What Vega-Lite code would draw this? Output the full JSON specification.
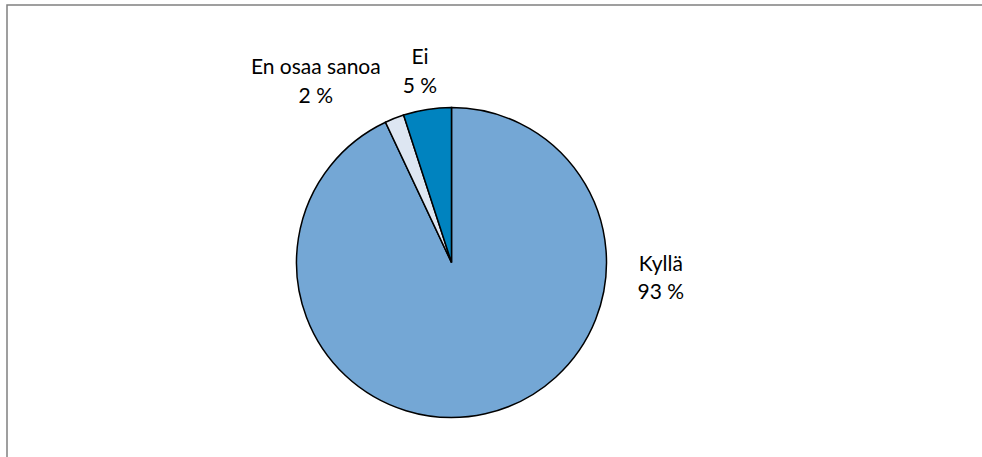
{
  "$schema": "https://vega.github.io/schema/vega-lite/v6.json",
  "width": 985,
  "height": 462,
  "autosize": {"type": "none"},
  "padding": {"left": 7, "top": 5, "right": -10, "bottom": -10},
  "background": "white",
  "config": {"view": {"stroke": null}},
  "data": {
    "values": [
      {"category": "Kyllä", "value": 93, "label": "Kyllä\n93 %"},
      {"category": "En osaa sanoa", "value": 2, "label": "En osaa sanoa\n2 %"},
      {"category": "Ei", "value": 5, "label": "Ei\n5 %"}
    ]
  },
  "layer": [
    {
      "data": {"values": [{"frame": 1}]},
      "mark": {"type": "rect", "x": 0, "x2": "width", "y": 0, "y2": "height", "filled": false, "stroke": "#808080", "strokeWidth": 1.5},
      "encoding": {}
    },
    {
      "mark": {"type": "arc", "outerRadius": 155, "x": 444.5, "y": 257.5, "stroke": "black", "strokeWidth": 1.5},
      "encoding": {
        "theta": {"field": "value", "type": "quantitative", "stack": true},
        "order": {"field": "category", "type": "nominal", "sort": "descending"},
        "color": {
          "field": "category",
          "type": "nominal",
          "scale": {"domain": ["Kyllä", "En osaa sanoa", "Ei"], "range": ["#74A7D5", "#DDE6F2", "#0083BF"]},
          "legend": null
        }
      }
    },
    {
      "mark": {"type": "text", "x": 444.5, "y": 257.5, "radius": 210, "thetaOffset": -1.272, "dy": -14, "font": "Lato", "fontSize": 21, "lineBreak": "\n", "lineHeight": 28, "align": "center", "baseline": "middle", "color": "black"},
      "encoding": {
        "theta": {"field": "value", "type": "quantitative", "stack": true},
        "order": {"field": "category", "type": "nominal", "sort": "descending"},
        "text": {"condition": {"test": "datum.category === 'Kyllä'", "field": "label"}, "value": ""}
      }
    },
    {
      "mark": {"type": "text", "x": 444.5, "y": 257.5, "radius": 226, "thetaOffset": -0.267, "dy": -14, "font": "Lato", "fontSize": 21, "lineBreak": "\n", "lineHeight": 29, "align": "center", "baseline": "middle", "color": "black"},
      "encoding": {
        "theta": {"field": "value", "type": "quantitative", "stack": true},
        "order": {"field": "category", "type": "nominal", "sort": "descending"},
        "text": {"condition": {"test": "datum.category === 'En osaa sanoa'", "field": "label"}, "value": ""}
      }
    },
    {
      "mark": {"type": "text", "x": 444.5, "y": 257.5, "radius": 193, "thetaOffset": -0.007, "dy": -14, "font": "Lato", "fontSize": 21, "lineBreak": "\n", "lineHeight": 29, "align": "center", "baseline": "middle", "color": "black"},
      "encoding": {
        "theta": {"field": "value", "type": "quantitative", "stack": true},
        "order": {"field": "category", "type": "nominal", "sort": "descending"},
        "text": {"condition": {"test": "datum.category === 'Ei'", "field": "label"}, "value": ""}
      }
    }
  ]
}
